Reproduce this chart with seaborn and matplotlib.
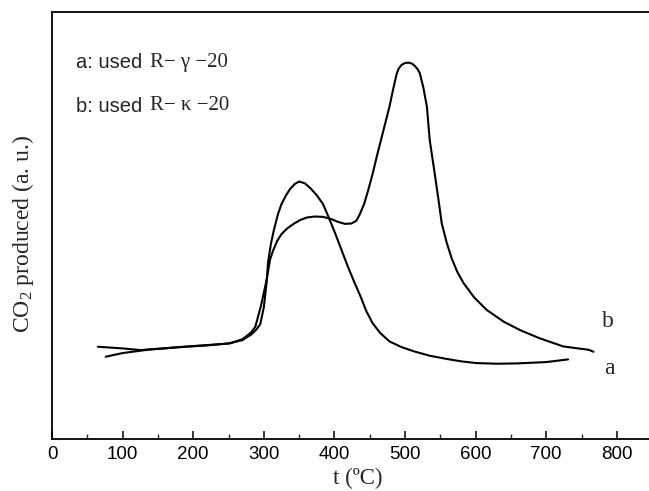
import matplotlib
matplotlib.use("Agg")
import matplotlib.pyplot as plt
import seaborn as sns
import pandas as pd
from matplotlib.ticker import MultipleLocator
from matplotlib import font_manager

# Curve a: used R-γ-20
t_a = [76, 100, 139, 180, 220, 250, 270, 283, 290, 295, 300, 304, 306, 310, 314, 320, 325,
       331, 337, 344, 350, 358, 366, 375, 384, 392, 401, 410, 419, 428, 437, 445, 454, 465,
       478, 495, 513, 535, 560, 580, 601, 630, 659, 700, 731]
co2_a = [2.47, 2.58, 2.69, 2.76, 2.81, 2.87, 2.97, 3.15, 3.30, 3.45, 3.95, 4.70, 5.30, 5.85,
         6.25, 6.75, 7.05, 7.30, 7.50, 7.66, 7.73, 7.68, 7.53, 7.32, 7.05, 6.65, 6.18, 5.68,
         5.18, 4.72, 4.28, 3.85, 3.48, 3.18, 2.93, 2.76, 2.63, 2.50, 2.40, 2.33, 2.28, 2.26,
         2.27, 2.31, 2.39]

# Curve b: used R-κ-20
t_b = [65, 100, 125, 160, 200, 252, 270, 282, 288, 296, 304, 309, 313, 319, 325, 333, 343,
       352, 361, 372, 384, 396, 405, 415, 424, 431, 436, 442, 448, 454, 460, 466, 472, 478,
       483, 488, 491, 495, 500, 505, 510, 514, 518, 521, 526, 531, 535, 542, 548, 552, 559,
       566, 574, 583, 598, 616, 640, 663, 690, 724, 745, 760, 767]
co2_b = [2.77, 2.72, 2.67, 2.72, 2.79, 2.87, 3.00, 3.20, 3.37, 4.00, 4.78, 5.40, 5.65, 5.95,
         6.15, 6.32, 6.47, 6.58, 6.65, 6.68, 6.67, 6.60, 6.52, 6.46, 6.47, 6.55, 6.75, 7.05,
         7.48, 7.95, 8.48, 8.98, 9.48, 9.98, 10.48, 10.95, 11.12, 11.23, 11.29, 11.30, 11.27,
         11.20, 11.10, 10.98, 10.55, 9.98, 8.98, 7.98, 7.10, 6.48, 5.90, 5.43, 5.02, 4.68,
         4.25, 3.87, 3.52, 3.27, 3.03, 2.78, 2.72, 2.68, 2.62]

x_ticks = [0, 100, 200, 300, 400, 500, 600, 700, 800]
curve_labels = ["a", "b"]
legend_lines = [("a: used", "R\u2212 \u03b3 \u221220"), ("b: used", "R\u2212 \u03ba \u221220")]

df_a = pd.DataFrame({"t": t_a, "co2": co2_a})
df_b = pd.DataFrame({"t": t_b, "co2": co2_b})

sns.set_style("ticks")
plt.rcParams["font.family"] = ["Liberation Sans", "DejaVu Sans"]
plt.rcParams["mathtext.fontset"] = "custom"
plt.rcParams["mathtext.rm"] = "Liberation Serif"
plt.rcParams["mathtext.it"] = "Liberation Serif:italic"
plt.rcParams["mathtext.bf"] = "Liberation Serif:bold"

names = {f.name for f in font_manager.fontManager.ttflist}
narrow = "Liberation Sans Narrow" if "Liberation Sans Narrow" in names else None

fig = plt.figure(figsize=(6.49, 4.91), dpi=100)
W, H = 649, 491
left, right, top, bottom = 52, 649, 11.7, 439
ax = fig.add_axes([left / W, (H - bottom) / H, (right - left) / W, (bottom - top) / H])

sns.lineplot(data=df_a, x="t", y="co2", ax=ax, color="black", lw=1.5, sort=False,
             estimator=None)
sns.lineplot(data=df_b, x="t", y="co2", ax=ax, color="black", lw=1.5, sort=False,
             estimator=None)

ax.set_xlim(0, 845.6)
ax.set_ylim(0, 12.83)
ax.set_xticks(x_ticks)
ax.xaxis.set_minor_locator(MultipleLocator(50))
ax.tick_params(axis="x", which="major", direction="in", length=6, width=1.1,
               labelsize=13.5, pad=5, colors="black")
ax.tick_params(axis="x", which="minor", direction="in", length=3.5, width=1.0)
ax.set_yticks([])
for s in ["left", "bottom", "top"]:
    ax.spines[s].set_linewidth(1.3)
    ax.spines[s].set_color("black")
ax.spines["right"].set_visible(False)

ax.set_xlabel("t (\u00baC)", family=["Liberation Serif", "DejaVu Serif"], fontsize=16.5)
ax.set_ylabel("CO$_2$ produced (a. u.)", family=["Liberation Serif", "DejaVu Serif"],
              fontsize=17)
ax.xaxis.set_label_coords((358 - left) / (right - left), -0.068)
ax.yaxis.set_label_coords(-0.027, 0.48)

# curve labels
ax.text(788, 3.52, curve_labels[1], family=["Liberation Serif"], fontsize=17,
        ha="center", va="center")
ax.text(789.5, 2.12, curve_labels[0], family=["Liberation Serif"], fontsize=17,
        ha="center", va="center")

# legend texts
for (sans_part, serif_part), ypix in zip(legend_lines, [63, 106]):
    if narrow:
        fig.text(76 / W, 1 - ypix / H, sans_part, family=[narrow], fontsize=17,
                 ha="left", va="center")
    else:
        fig.text(76 / W, 1 - ypix / H, sans_part, family=["Liberation Sans"], fontsize=14.5,
                 ha="left", va="center")
    fig.text(150 / W, 1 - ypix / H, serif_part, family=["Liberation Serif", "DejaVu Serif"],
             fontsize=15, ha="left", va="center")

fig.savefig("out.png", dpi=100)
